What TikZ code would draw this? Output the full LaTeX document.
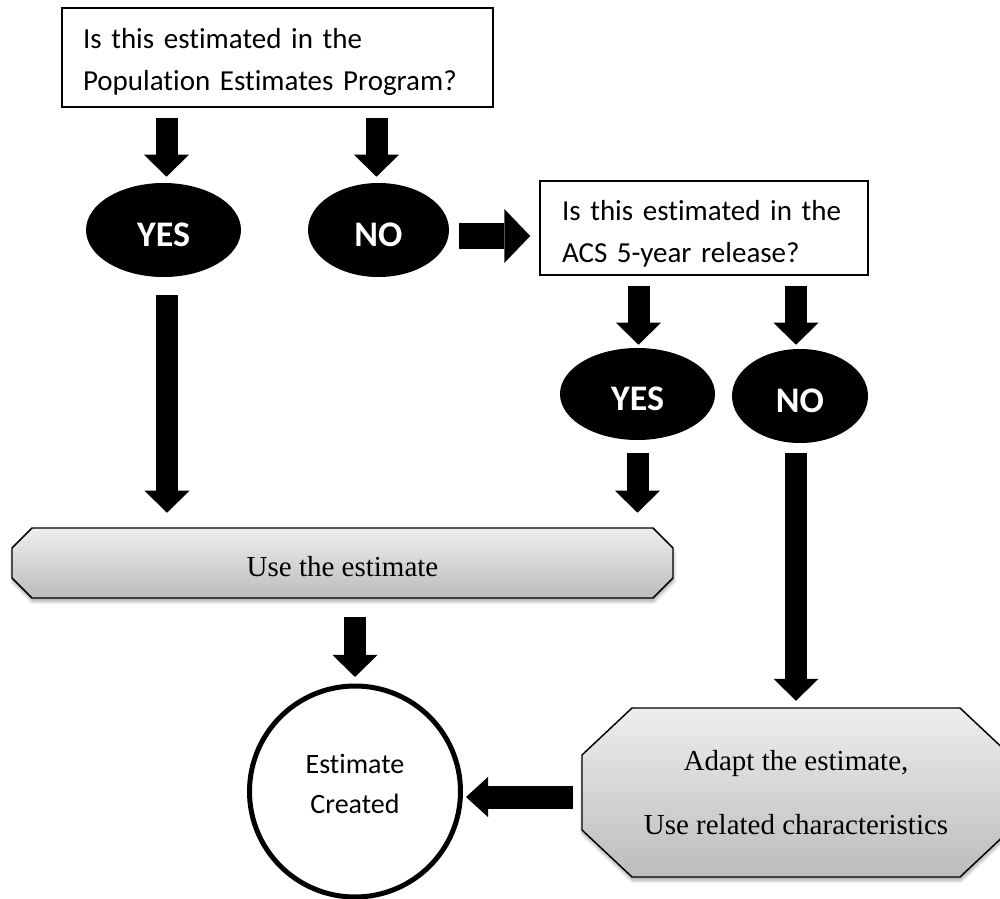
\documentclass[tikz,border=0pt]{standalone}
\usepackage{fontspec}
\setmainfont[Ligatures=NoCommon]{Carlito}
\newfontfamily\tnr{Liberation Serif}
\usetikzlibrary{arrows.meta,shapes.geometric,calc,shadows.blur}
\definecolor{octtop}{RGB}{238,238,238}
\definecolor{octbot}{RGB}{188,188,188}
\begin{document}
\begin{tikzpicture}[x=0.75pt,y=-0.75pt,
  qbox/.style={draw=black, line width=1.1pt, rectangle, align=left, inner ysep=0pt,
    font=\fontsize{21.75pt}{31.5pt}\selectfont},
  yn/.style={ellipse, fill=black, inner sep=0pt, text=white,
    font=\fontsize{27pt}{30pt}\selectfont\bfseries},
  octo/.style={draw=black, line width=1.1pt, top color=octtop, bottom color=octbot,
    blur shadow={shadow xshift=0.5pt, shadow yshift=-2.5pt, shadow blur radius=2.5pt,
      shadow blur steps=8, shadow opacity=35}},
  octtext/.style={align=center, inner sep=0pt, font=\tnr\fontsize{21.75pt}{48pt}\selectfont},
  barrow/.style={draw=black, color=black, line width=16.5pt,
    -{Triangle[length=16.5pt,width=33.75pt,line width=0pt,fill=black]}},
  warrow/.style={draw=black, color=black, line width=19.5pt,
    -{Triangle[length=19.5pt,width=40.5pt,line width=0pt,fill=black]}},
  larrow/.style={draw=black, color=black, line width=17.25pt,
    -{Triangle[length=16.5pt,width=30pt,line width=0pt,fill=black]}}
]
\useasboundingbox (0,0) rectangle (1000,899);
\clip (0,0) rectangle (1000,899);

% nodes
\node[qbox, text width=291.75pt, inner xsep=15.75pt, minimum height=74.25pt] (q1) at (277.5,57.5)
  {\rule{0pt}{21pt}Is this estimated in the\\Population Estimates Program?};
\node[yn, minimum width=116.25pt, minimum height=70.5pt] (yes1) at (163.5,230) {\rule{0pt}{24.75pt}YES};
\node[yn, minimum width=105.75pt, minimum height=70.5pt] (no1) at (378.5,230) {\rule{0pt}{24.75pt}NO};
\node[qbox, text width=213pt, inner xsep=16.5pt, minimum height=70.5pt] (q2) at (704,228)
  {\rule{0pt}{23.5pt}Is this estimated in the\\ACS 5-year release?};
\node[yn, minimum width=116.25pt, minimum height=69pt] (yes2) at (637.5,394) {\rule{0pt}{24.75pt}YES};
\node[yn, minimum width=102pt, minimum height=70.5pt] (no2) at (800,396) {\rule{0pt}{24.75pt}NO};
\node[circle, draw=black, line width=3.75pt, minimum size=158.25pt, inner sep=0pt, align=center,
  font=\fontsize{21pt}{30pt}\selectfont] (done) at (355,791.5)
  {Estimate\\Created\rule[-11.25pt]{0pt}{11.25pt}};
% positions of the chamfered boxes (text placed after the shapes)
\coordinate (usec) at (342.5,567);
\coordinate (adaptc) at (796,793);

% chamfered boxes
\path[octo] (32,528) -- (653,528) -- (673,548) -- (673,578) -- (653,598) -- (32,598) -- (12,578) -- (12,548) -- cycle;
\path[octo] (632,708) -- (960,708) -- (1010,755) -- (1010,830) -- (960,877) -- (632,877) -- (582,830) -- (582,755) -- cycle;
\node[octtext, minimum width=495.75pt, minimum height=52.5pt] (use) at (usec) {Use the estimate};
\node[octtext, minimum width=321pt, minimum height=126.75pt] (adapt) at (adaptc)
  {Adapt the estimate,\\Use related characteristics};

% connectors
\draw[barrow, shorten <=7.5pt, shorten >=4.5pt] ($(q1.south -| yes1.north)+(3,0)$) -- ($(yes1.north)+(3,0)$);
\draw[barrow, shorten <=7.5pt, shorten >=4.5pt] ($(q1.south -| no1.north)+(-2,0)$) -- ($(no1.north)+(-2,0)$);
\draw[warrow, shorten <=7.5pt, shorten >=6.75pt] ($(no1.east)+(0,6)$) -- ($(q2.west |- no1.east)+(0,6)$);
\draw[barrow, shorten <=13.5pt, shorten >=14.25pt] ($(yes1.south)+(3.5,0)$) -- ($(yes1.south |- use.north)+(3.5,0)$);
\draw[barrow, shorten <=7.5pt, shorten >=2.25pt] ($(q2.south -| yes2.north)+(1,0)$) -- ($(yes2.north)+(1,0)$);
\draw[barrow, shorten <=7.5pt, shorten >=3pt] ($(q2.south -| no2.north)+(-4,0)$) -- ($(no2.north)+(-4,0)$);
\draw[barrow, shorten <=9.75pt, shorten >=14.25pt] (yes2.south) -- (yes2.south |- use.north);
\draw[barrow, shorten <=7.5pt, shorten >=5.6pt] (no2.south -| adapt.north) -- (adapt.north);
\draw[barrow, shorten <=11.25pt, shorten >=4.9pt] (use.south -| done.north) -- (done.north);
\draw[larrow, shorten <=6.75pt, shorten >=2.25pt] ($(adapt.west)+(0,4)$) -- ($(done.east |- adapt.west)+(0,4)$);
\end{tikzpicture}
\end{document}
